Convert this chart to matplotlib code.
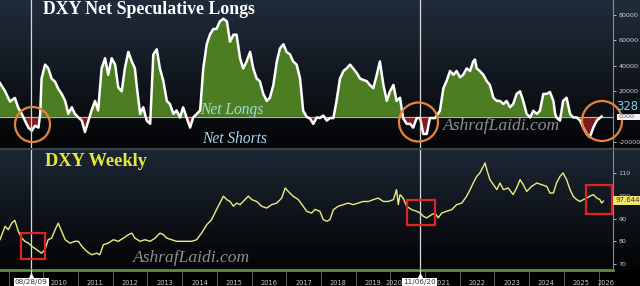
import numpy as np
import matplotlib
matplotlib.use("Agg")
import matplotlib.pyplot as plt
from matplotlib.patches import Circle, Rectangle
from matplotlib.colors import to_rgb
import matplotlib.transforms as mtrans

# ---------------- data ----------------
cot_dates = [2008.75, 2008.90, 2009.04, 2009.18, 2009.28, 2009.38, 2009.47, 2009.57, 2009.67, 2009.76,
             2009.86, 2009.91, 2009.95, 2010.05, 2010.14, 2010.24, 2010.34, 2010.43, 2010.53, 2010.63,
             2010.72, 2010.82, 2010.91, 2011.01, 2011.11, 2011.20, 2011.30, 2011.39, 2011.49, 2011.58,
             2011.68, 2011.78, 2011.87, 2011.97, 2012.07, 2012.16, 2012.26, 2012.35, 2012.45, 2012.55,
             2012.64, 2012.69, 2012.79, 2012.88, 2012.98, 2013.08, 2013.17, 2013.27, 2013.36, 2013.46,
             2013.56, 2013.65, 2013.75, 2013.84, 2013.94, 2014.03, 2014.13, 2014.23, 2014.32, 2014.42,
             2014.52, 2014.61, 2014.71, 2014.80, 2014.90, 2014.99, 2015.09, 2015.19, 2015.29, 2015.38,
             2015.48, 2015.57, 2015.67, 2015.76, 2015.86, 2015.96, 2016.05, 2016.15, 2016.24, 2016.34,
             2016.44, 2016.53, 2016.63, 2016.73, 2016.82, 2016.92, 2017.01, 2017.11, 2017.20, 2017.30,
             2017.40, 2017.49, 2017.59, 2017.69, 2017.78, 2017.88, 2017.97, 2018.07, 2018.17, 2018.26,
             2018.36, 2018.45, 2018.55, 2018.65, 2018.74, 2018.84, 2018.93, 2019.03, 2019.13, 2019.22,
             2019.32, 2019.41, 2019.51, 2019.61, 2019.70, 2019.80, 2019.90, 2019.99, 2020.09, 2020.18,
             2020.28, 2020.37, 2020.47, 2020.57, 2020.66, 2020.76, 2020.86, 2020.95, 2021.05, 2021.14,
             2021.29, 2021.43, 2021.53, 2021.62, 2021.72, 2021.82, 2021.91, 2022.01, 2022.10, 2022.20,
             2022.30, 2022.39, 2022.44, 2022.49, 2022.58, 2022.68, 2022.78, 2022.87, 2022.97, 2023.07,
             2023.16, 2023.26, 2023.35, 2023.45, 2023.54, 2023.64, 2023.74, 2023.83, 2023.93, 2024.03,
             2024.12, 2024.22, 2024.31, 2024.41, 2024.51, 2024.60, 2024.70, 2024.75, 2024.79, 2024.89,
             2024.98, 2025.08, 2025.18, 2025.27, 2025.37, 2025.47, 2025.56, 2025.66, 2025.75, 2025.85,
             2025.95, 2026.09]
cot_values = [26500, 20000, 12000, 14800, 7000, 2300, -3000, -8500, -11000, -7000,
              -8500, 2300, 30000, 41000, 38300, 30000, 27500, 22000, 18000, 12500,
              2300, 7500, 2300, -500, -3000, -12000, -3000, 5000, 12500, 5000,
              38000, 46000, 33000, 46000, 41000, 23000, 20000, 38000, 51000, 43500,
              38000, 25000, 2300, 7500, -3000, -5500, 49000, 53000, 38000, 28000,
              12500, 10000, 2300, 5000, -500, 7500, -500, -8500, -500, 2300,
              5000, 38000, 57000, 64500, 69000, 69000, 75000, 77000, 75000, 59000,
              64500, 64500, 46000, 38000, 43500, 51000, 38000, 30000, 28000, 18000,
              12500, 15000, 25000, 43500, 53700, 57000, 51000, 49000, 43500, 41000,
              30000, 4700, 0, -1500, -5500, -500, -1000, 1000, -3000, -1000,
              -1000, 12500, 30000, 36000, 38000, 41000, 38000, 34500, 30000, 29000,
              28000, 25000, 22500, 33000, 43500, 25000, 12500, 20000, 25000, 12500,
              15000, -1000, -5500, -5500, -8500, -1000, -1000, -13500, -13500, -1000,
              -1000, 4700, 22500, 28000, 36000, 33000, 36000, 31000, 33000, 38000,
              36000, 43500, 45000, 38000, 36000, 33000, 28000, 25000, 15000, 12500,
              12500, 10000, 12500, 7500, 10000, 18000, 20000, 12500, 2300, -500,
              4700, 2300, 4700, 18000, 18000, 19500, 12500, 2300, -500, -3000,
              12500, 15000, 2300, -500, -500, -3000, -8500, -13500, -16000, -8500,
              -3000, 328]

dxy_dates = [2008.75, 2008.90, 2008.99, 2009.09, 2009.18, 2009.28, 2009.38, 2009.47, 2009.57, 2009.67,
             2009.81, 2009.95, 2010.05, 2010.14, 2010.24, 2010.34, 2010.43, 2010.53, 2010.63, 2010.77,
             2010.91, 2011.01, 2011.11, 2011.25, 2011.39, 2011.54, 2011.63, 2011.73, 2011.87, 2012.02,
             2012.16, 2012.31, 2012.45, 2012.55, 2012.64, 2012.79, 2012.93, 2013.08, 2013.22, 2013.36,
             2013.46, 2013.56, 2013.70, 2013.84, 2013.99, 2014.13, 2014.28, 2014.42, 2014.56, 2014.71,
             2014.85, 2014.99, 2015.09, 2015.19, 2015.29, 2015.38, 2015.48, 2015.57, 2015.67, 2015.81,
             2015.91, 2016.01, 2016.15, 2016.29, 2016.44, 2016.58, 2016.73, 2016.87, 2016.97, 2017.06,
             2017.20, 2017.35, 2017.49, 2017.59, 2017.73, 2017.83, 2017.97, 2018.07, 2018.17, 2018.26,
             2018.36, 2018.50, 2018.65, 2018.79, 2018.93, 2019.08, 2019.22, 2019.37, 2019.51, 2019.65,
             2019.80, 2019.94, 2020.09, 2020.18, 2020.23, 2020.28, 2020.37, 2020.47, 2020.62, 2020.76,
             2020.86, 2020.95, 2021.05, 2021.19, 2021.29, 2021.38, 2021.48, 2021.62, 2021.77, 2021.91,
             2022.06, 2022.20, 2022.30, 2022.39, 2022.49, 2022.58, 2022.68, 2022.73, 2022.78, 2022.87,
             2022.97, 2023.07, 2023.16, 2023.26, 2023.40, 2023.54, 2023.64, 2023.74, 2023.83, 2023.93,
             2024.07, 2024.22, 2024.36, 2024.51, 2024.60, 2024.70, 2024.79, 2024.89, 2024.98, 2025.08,
             2025.18, 2025.27, 2025.37, 2025.47, 2025.56, 2025.66, 2025.75, 2025.85, 2025.95, 2026.04,
             2026.09, 2026.14]
dxy_values = [80.7, 86.6, 85.1, 88.0, 89.2, 84.4, 81.4, 80.0, 79.2, 77.8,
              76.3, 74.8, 76.3, 80.7, 81.4, 85.1, 88.0, 84.4, 80.7, 79.2,
              80.0, 80.0, 77.8, 75.6, 74.1, 74.8, 74.1, 78.5, 79.2, 80.7,
              80.0, 81.4, 82.9, 83.6, 81.4, 80.0, 80.7, 80.0, 81.4, 83.6,
              82.9, 81.4, 80.7, 80.0, 80.0, 80.0, 80.0, 80.7, 83.6, 87.3,
              89.5, 93.9, 96.8, 99.8, 98.3, 97.5, 95.4, 96.8, 96.1, 98.3,
              99.8, 98.3, 97.5, 95.4, 94.6, 96.1, 96.8, 99.0, 103.4, 101.9,
              99.8, 98.3, 95.4, 93.2, 92.4, 94.0, 93.2, 89.5, 88.8, 89.5,
              93.9, 95.4, 96.1, 96.8, 96.1, 96.8, 97.5, 97.5, 98.3, 99.0,
              97.5, 97.5, 98.3, 102.7, 96.1, 100.5, 99.0, 95.4, 93.9, 93.2,
              92.4, 91.0, 90.3, 91.7, 92.4, 90.3, 92.4, 93.2, 93.9, 96.1,
              96.8, 99.8, 102.7, 105.6, 108.5, 110.0, 112.9, 114.4, 111.5, 107.1,
              104.9, 102.7, 105.6, 102.7, 103.4, 100.5, 103.4, 107.1, 104.9, 101.9,
              104.1, 105.6, 104.9, 104.1, 101.2, 101.2, 105.6, 108.5, 110.0, 107.1,
              102.7, 99.8, 98.3, 97.5, 98.3, 99.0, 99.8, 100.5, 99.0, 98.3,
              96.8, 97.644]

years = list(range(2010, 2027))
year_label_pos = [2010.45, 2011.5, 2012.5, 2013.5, 2014.5, 2015.5, 2016.5, 2017.5, 2018.5,
                  2019.5, 2020.12, 2021.5, 2022.5, 2023.5, 2024.5, 2025.5, 2026.23]
event_dates = [2009.655, 2020.847]
event_labels = ["08/28/09", "11/06/20"]
cot_last_label = "328"
dxy_last_label = "97.644"

# ---------------- figure ----------------
W, H = 640, 286
fig = plt.figure(figsize=(W / 100, H / 100), dpi=100)
fig.patch.set_facecolor("black")

# background gradients (pixel rows)
bg = fig.add_axes([0, 0, 1, 1], zorder=-5)
bg.axis("off")
img = np.zeros((H, 1, 3))
top_c, bot_c = np.array(to_rgb("#212c3b")), np.array(to_rgb("#030405"))
for r in range(0, 149):
    t = r / 148
    img[r, 0] = top_c * (1 - t) + bot_c * t
top2 = np.array(to_rgb("#1c2633"))
for r in range(150, 270):
    t = (r - 150) / 119
    img[r, 0] = top2 * (1 - t) + bot_c * t
img[148:150, 0] = to_rgb("#3b4450")
bg.imshow(img, aspect="auto", extent=(0, W, H, 0), interpolation="bilinear")
bg.set_xlim(0, W)
bg.set_ylim(H, 0)

x0 = 2008.752
x1 = 2008.752 + 613 / 34.7
axw = 613 / W

# ---- top panel ----
ax1 = fig.add_axes([0, 1 - 148 / H, axw, 148 / H])
ax1.set_facecolor("none")
cd = np.array(cot_dates)
cv = np.array(cot_values, dtype=float)
ax1.fill_between(cd, cv, 0, where=cv >= 0, interpolate=True, color="#4d7d22", lw=0)
ax1.fill_between(cd, cv, 0, where=cv <= 0, interpolate=True, color="#7e1b1e", lw=0)
ax1.axhline(0, color="#b8b8b8", lw=0.8)
ax1.plot(cd, cv, color="white", lw=1.8, solid_joinstyle="round")
ax1.set_xlim(x0, x1)
ax1.set_ylim(-24500, 91750)
ax1.set_xticks([])
ax1.yaxis.tick_right()
ax1.set_yticks([-20000, 20000, 40000, 60000, 80000])
ax1.set_yticklabels(["-20000", "20000", "40000", "60000", "80000"])
ax1.tick_params(axis="y", colors="#d0d0d0", labelsize=4.6, length=2.5, width=0.6, pad=1.5)
for s in ["top", "left", "bottom"]:
    ax1.spines[s].set_visible(False)
ax1.spines["right"].set_color("#8c8c8c")
ax1.spines["right"].set_linewidth(0.8)

# ---- bottom panel ----
ax2 = fig.add_axes([0, 1 - 270 / H, axw, 120 / H])
ax2.set_facecolor("none")
ax2.plot(dxy_dates, dxy_values, color="#ecec82", lw=1.0)
ax2.set_xlim(x0, x1)
ax2.set_ylim(67.4, 120.1)
ax2.yaxis.tick_right()
ax2.set_yticks([70, 80, 90, 100, 110])
ax2.tick_params(axis="y", colors="#d0d0d0", labelsize=4.6, length=2.5, width=0.6, pad=1.5)
ax2.set_xticks([2009] + years)
ax2.set_xticklabels([])
ax2.tick_params(axis="x", which="major", length=11.5, width=0.7, color="#5a5a5a", direction="out")
ax2.set_xticks(year_label_pos, minor=True)
ax2.set_xticklabels([str(y) for y in years], minor=True)
ax2.tick_params(axis="x", which="minor", length=0, labelsize=4.8, colors="#c8c8c8", pad=7.5)
for s in ["top", "left"]:
    ax2.spines[s].set_visible(False)
ax2.spines["right"].set_color("#8c8c8c")
ax2.spines["right"].set_linewidth(0.8)
ax2.spines["bottom"].set_color("#5e8f3c")
ax2.spines["bottom"].set_linewidth(2.0)

for d in event_dates:
    ax1.axvline(d, color="#d8d8d8", lw=0.9)
    ax2.axvline(d, color="#d8d8d8", lw=0.9)

# ---- overlay in pixel coordinates ----
ov = fig.add_axes([0, 0, 1, 1], zorder=10)
ov.set_facecolor("none")
ov.axis("off")
ov.set_xlim(0, W)
ov.set_ylim(H, 0)
blend = mtrans.blended_transform_factory(ax2.transData, ov.transData)
for d, lab in zip(event_dates, event_labels):
    ov.plot([d, d], [270, 278], color="#d8d8d8", lw=0.9, transform=blend)
    ov.plot([d], [276], marker="^", ms=3, color="white", transform=blend)
    ov.text(d, 282, lab, transform=blend, ha="center", va="center", fontsize=5.2,
            color="#333333", bbox=dict(boxstyle="square,pad=0.15", fc="white", ec="none"))

serif = "Liberation Serif"
ov.text(43, 9.5, "DXY Net Speculative Longs", fontfamily=serif, fontweight="bold",
        fontsize=12.8, color="white", ha="left", va="center")
ov.text(45, 162, "DXY Weekly", fontfamily=serif, fontweight="bold",
        fontsize=13.2, color="#e8e838", ha="left", va="center")
ov.text(200, 110, "Net Longs", fontfamily=serif, fontstyle="italic",
        fontsize=11.2, color="#9fdede", ha="left", va="center")
ov.text(202, 139, "Net Shorts", fontfamily=serif, fontstyle="italic",
        fontsize=11.2, color="#a9d8ee", ha="left", va="center")
for (tx, ty) in [(443, 126), (133, 258)]:
    ov.text(tx, ty, "AshrafLaidi.com", fontfamily=serif, fontstyle="italic",
            fontsize=12.6, color="#8e8e8e", ha="left", va="center")

for (cx, cy, r) in [(32.5, 124.5, 17.5), (418.5, 122, 19.5), (602, 121, 20)]:
    ov.add_patch(Circle((cx, cy), r, fill=False, ec="#e8843a", lw=1.6))
for (rx, ry, rw, rh) in [(21, 233, 24, 26), (407, 200, 28, 25), (586, 185, 26, 29)]:
    ov.add_patch(Rectangle((rx, ry), rw, rh, fill=False, ec="#e02424", lw=1.6))

ov.text(638, 106, cot_last_label, fontsize=8.4, color="#7fd3ea", ha="right", va="center")
ov.add_patch(Rectangle((617, 114), 23, 6, fc="#f2f2f2", ec="none"))
ov.text(619, 117, "0000", fontsize=4.6, color="#555555", ha="left", va="center")
ov.add_patch(Rectangle((613, 196), 27, 9, fc="#f0e86a", ec="none"))
ov.text(615, 200.5, dxy_last_label, fontsize=5, color="#333333", ha="left", va="center")

fig.savefig("out.png", dpi=100, facecolor="black")
